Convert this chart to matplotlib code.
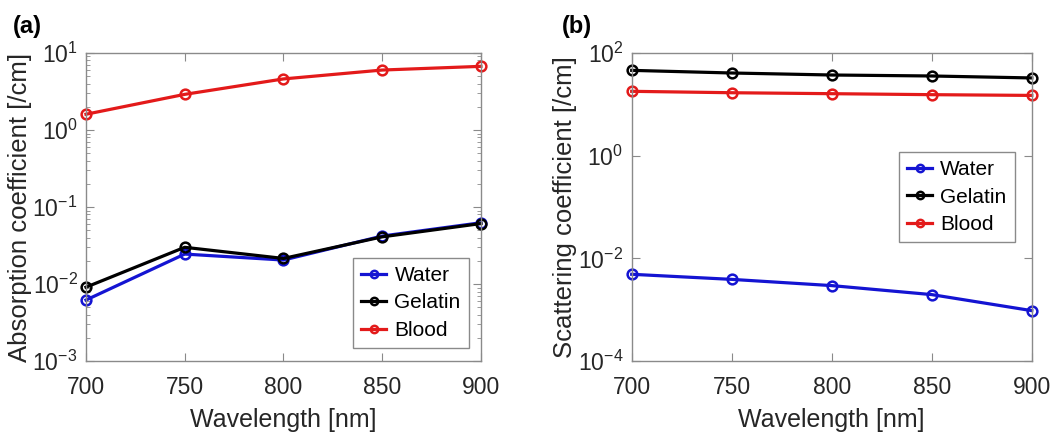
import numpy as np
import matplotlib
matplotlib.use("Agg")
import matplotlib.pyplot as plt
from matplotlib.ticker import LogLocator, NullFormatter, FixedLocator

plt.rcParams["font.family"] = ["Liberation Sans", "DejaVu Sans"]
plt.rcParams["mathtext.fontset"] = "custom"
plt.rcParams["mathtext.rm"] = "Liberation Sans"
plt.rcParams["mathtext.it"] = "Liberation Sans"

wavelength = [700, 750, 800, 850, 900]

# (a) absorption coefficient [/cm]
abs_water = [0.0062, 0.0245, 0.0205, 0.042, 0.0625]
abs_gelatin = [0.0091, 0.030, 0.0215, 0.041, 0.061]
abs_blood = [1.6, 2.9, 4.6, 6.0, 6.7]

# (b) scattering coefficient [/cm]
sca_water = [0.0049, 0.0039, 0.00295, 0.00197, 0.00096]
sca_gelatin = [45.8, 40.7, 37.2, 35.6, 32.6]
sca_blood = [17.9, 16.8, 16.1, 15.4, 14.9]

labels = ["Water", "Gelatin", "Blood"]
colors = ["#1414d2", "black", "#e31a1a"]
AX_GREY = "#8a8a8a"
TXT = "#262626"


def style_axes(ax, ylim, yticks, minor=True):
    ax.set_yscale("log")
    ax.set_xlim(700, 900)
    ax.set_ylim(*ylim)
    ax.set_xticks(wavelength)
    ax.yaxis.set_major_locator(FixedLocator(yticks))
    if minor:
        ax.yaxis.set_minor_locator(LogLocator(base=10, subs=np.arange(2, 10)))
    else:
        ax.yaxis.set_minor_locator(FixedLocator([]))
    ax.yaxis.set_minor_formatter(NullFormatter())
    ax.tick_params(which="both", direction="in", top=True, right=True,
                   color=AX_GREY, labelcolor=TXT, labelsize=16.5)
    ax.tick_params(axis="x", pad=11)
    ax.tick_params(axis="y", pad=6)
    ax.tick_params(which="major", length=6)
    ax.tick_params(which="minor", length=3)
    for s in ax.spines.values():
        s.set_color(AX_GREY)
        s.set_linewidth(1.0)
    ax.set_xlabel("Wavelength [nm]", fontsize=18, color=TXT, labelpad=6)


def draw(ax, series):
    for y, lab, c in zip(series, labels, colors):
        ax.plot(wavelength, y, "-o", color=c, lw=2.3, ms=7, mfc="none",
                mew=1.8, label=lab, clip_on=False)


def add_legend(ax, loc, anchor):
    leg = ax.legend(loc=loc, bbox_to_anchor=anchor, fontsize=15,
                    frameon=True, fancybox=False, framealpha=1,
                    edgecolor=AX_GREY, handlelength=1.2, handletextpad=0.4,
                    borderpad=0.4, labelspacing=0.4, borderaxespad=0,
                    markerscale=0.75)
    leg.get_frame().set_linewidth(1.0)
    return leg


fig = plt.figure(figsize=(10.64, 4.34), dpi=100)
ax1 = fig.add_axes([0.0808, 0.168, 0.3712, 0.710])
ax2 = fig.add_axes([0.5937, 0.168, 0.376, 0.710])

draw(ax1, [abs_water, abs_gelatin, abs_blood])
style_axes(ax1, (1e-3, 1e1), [1e-3, 1e-2, 1e-1, 1e0, 1e1])
ax1.set_ylabel("Absorption coefficient [/cm]", fontsize=18.5, color=TXT)
ax1.yaxis.set_label_coords(-0.137, 0.5)
add_legend(ax1, "lower right", (0.97, 0.042))

draw(ax2, [sca_water, sca_gelatin, sca_blood])
style_axes(ax2, (1e-4, 1e2), [1e-4, 1e-2, 1e0, 1e2], minor=False)
ax2.set_ylabel("Scattering coefficient [/cm]", fontsize=18.5, color=TXT)
ax2.yaxis.set_label_coords(-0.137, 0.5)
add_legend(ax2, "upper right", (0.958, 0.679))

fig.text(0.012, 0.94, "(a)", fontsize=17, fontweight="bold", color="black",
         va="center", ha="left")
fig.text(0.528, 0.94, "(b)", fontsize=17, fontweight="bold", color="black",
         va="center", ha="left")

fig.savefig("out.png", dpi=100)
